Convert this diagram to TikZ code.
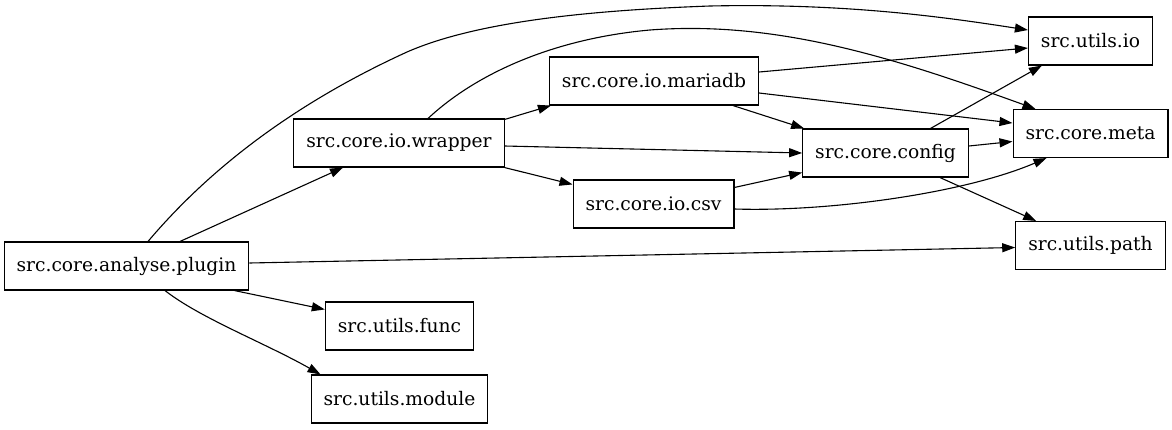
\documentclass[tikz,border=0pt]{standalone}
\usepackage{fontspec}
\setmainfont{DejaVu Serif}
\usetikzlibrary{arrows.meta,calc}
\begin{document}
\begin{tikzpicture}[x=1pt,y=-1pt,
  box/.style={draw,line width=1.1pt,minimum height=48pt,inner xsep=12.5pt,inner ysep=0pt,
    font=\fontsize{18.67}{22}\selectfont,anchor=center},
  edge/.style={line width=1.1pt,-{Triangle[length=13pt,width=9pt]}}]
\useasboundingbox (0,0) rectangle (1172,429);
\node[box] (plugin) at (126.5,266) {src.core.analyse.plugin};
\node[box] (wrapper) at (399,143) {src.core.io.wrapper};
\node[box] (mariadb) at (654,81) {src.core.io.mariadb};
\node[box] (csv) at (653.5,204) {src.core.io.csv};
\node[box] (config) at (885.5,153) {src.core.config};
\node[box] (io) at (1090.5,41) {src.utils.io};
\node[box] (meta) at (1090.5,133.5) {src.core.meta};
\node[box] (path) at (1090.5,245.5) {src.utils.path};
\node[box] (func) at (399.5,326) {src.utils.func};
\node[box] (module) at (399.5,399) {src.utils.module};
% plugin edges
\draw[edge] ($(plugin.north)+(21.5,0)$) .. controls (200,180) and (280,110) .. (407,52)
  .. controls (480,20) and (600,10) .. (710,6) .. controls (850,3) and (950,18) .. ($(io.west)+(0,-11)$);
\draw[edge] ($(plugin.north)+(53.5,0)$) -- ($(wrapper.south)+(-56,0)$);
\draw[edge] ($(plugin.east)+(0,-3)$) -- ($(path.west)+(0,2)$);
\draw[edge] ($(plugin.south east)+(-15,0)$) -- ($(func.north west)+(0,8)$);
\draw[edge] ($(plugin.south)+(38.5,0)$) .. controls (200,318) and (265,343) .. ($(module.north west)+(10,0)$);
% wrapper edges
\draw[edge] ($(wrapper.north)+(29,0)$) .. controls (480,70) and (560,38) .. (650,30)
  .. controls (780,20) and (900,60) .. ($(meta.north west)+(23,0)$);
\draw[edge] ($(wrapper.north east)+(0,1)$) -- ($(mariadb.south west)+(2,0)$);
\draw[edge] ($(wrapper.east)+(0,3)$) -- (config.west);
\draw[edge] (wrapper.south east) -- ($(csv.north west)+(0,5)$);
% mariadb edges
\draw[edge] ($(mariadb.east)+(0,-9)$) -- ($(io.west)+(0,7)$);
\draw[edge] ($(mariadb.east)+(0,12)$) -- ($(meta.west)+(0,-10.5)$);
\draw[edge] ($(mariadb.south)+(79,0)$) -- ($(config.north west)+(2,0)$);
% csv edges
\draw[edge] ($(csv.north east)+(0,8)$) -- ($(config.south west)+(0,-5)$);
\draw[edge] ($(csv.east)+(0,5)$) .. controls (830,212) and (965,193) .. ($(meta.south west)+(34,0)$);
% config edges
\draw[edge] ($(config.north)+(45,0)$) -- ($(io.south west)+(14,0)$);
\draw[edge] ($(config.east)+(0,-7)$) -- ($(meta.west)+(0,8)$);
\draw[edge] ($(config.south)+(54.5,0)$) -- ($(path.north west)+(21,0)$);
\end{tikzpicture}
\end{document}
